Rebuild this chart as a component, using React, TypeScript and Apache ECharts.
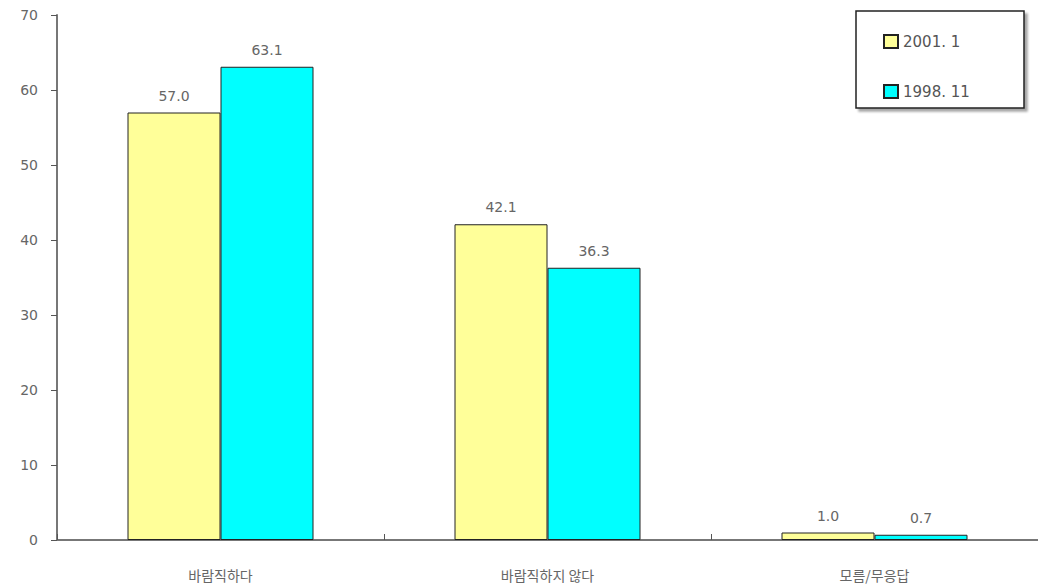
import React, { useEffect, useRef } from "react";
import * as echarts from "echarts";

const categories = ["바람직하다", "바람직하지 않다", "모름/무응답"];
const series2001 = [57.0, 42.1, 1.0];
const series1998 = [63.1, 36.3, 0.7];
const seriesNames = ["2001. 1", "1998. 11"];
const yTicks = { min: 0, max: 70, interval: 10 };

export default function App() {
  const ref = useRef<HTMLDivElement>(null);
  useEffect(() => {
    const chart = echarts.init(ref.current!, undefined, { renderer: "svg" });
    const labelStyle = {
      show: true,
      position: "top" as const,
      distance: 10,
      color: "#666",
      fontSize: 14,
      fontFamily: "DejaVu Sans",
      formatter: (p: any) => Number(p.value).toFixed(1),
    };
    chart.setOption({
      animation: false,
      backgroundColor: "#fff",
      grid: { left: 57, right: 0, top: 15, bottom: 48, containLabel: false },
      graphic: [
        {
          type: "rect",
          shape: { x: 856, y: 11, width: 168, height: 97 },
          style: { fill: "#fff", stroke: "#222", lineWidth: 1.5, shadowColor: "rgba(0,0,0,0.35)", shadowOffsetX: 3, shadowOffsetY: 3, shadowBlur: 2 },
          z: 10,
        },
      ],
      legend: {
        orient: "vertical",
        left: 878,
        top: 29,
        itemGap: 35,
        itemWidth: 14,
        itemHeight: 13,
        icon: "rect",
        z: 20,
        textStyle: { color: "#555", fontSize: 15, fontFamily: "DejaVu Sans" },
        data: seriesNames,
      },
      xAxis: {
        type: "category",
        data: categories,
        axisLine: { lineStyle: { color: "#777", width: 2 } },
        axisTick: { show: true, length: 6, inside: true, lineStyle: { color: "#555" } },
        axisLabel: { color: "#666", fontSize: 14, margin: 28, fontFamily: "Noto Sans CJK KR" },
      },
      yAxis: {
        type: "value",
        min: yTicks.min,
        max: yTicks.max,
        interval: yTicks.interval,
        axisLine: { show: true, lineStyle: { color: "#777", width: 2 } },
        axisTick: { show: true, length: 6, inside: false, lineStyle: { color: "#555" } },
        splitLine: { show: false },
        axisLabel: { color: "#666", fontSize: 14, margin: 19, fontFamily: "DejaVu Sans" },
      },
      series: [
        {
          name: seriesNames[0],
          type: "bar",
          data: series2001,
          barWidth: 93,
          barGap: "0%",
          itemStyle: { color: "#FFFF99", borderColor: "#222", borderWidth: 1 },
          label: labelStyle,
        },
        {
          name: seriesNames[1],
          type: "bar",
          data: series1998,
          barWidth: 93,
          barGap: "0%",
          itemStyle: { color: "#00FFFF", borderColor: "#222", borderWidth: 1 },
          label: labelStyle,
        },
      ],
    });
    return () => chart.dispose();
  }, []);
  return <div ref={ref} style={{ width: 1038, height: 588, position: "absolute", left: 0, top: 0 }} />;
}
